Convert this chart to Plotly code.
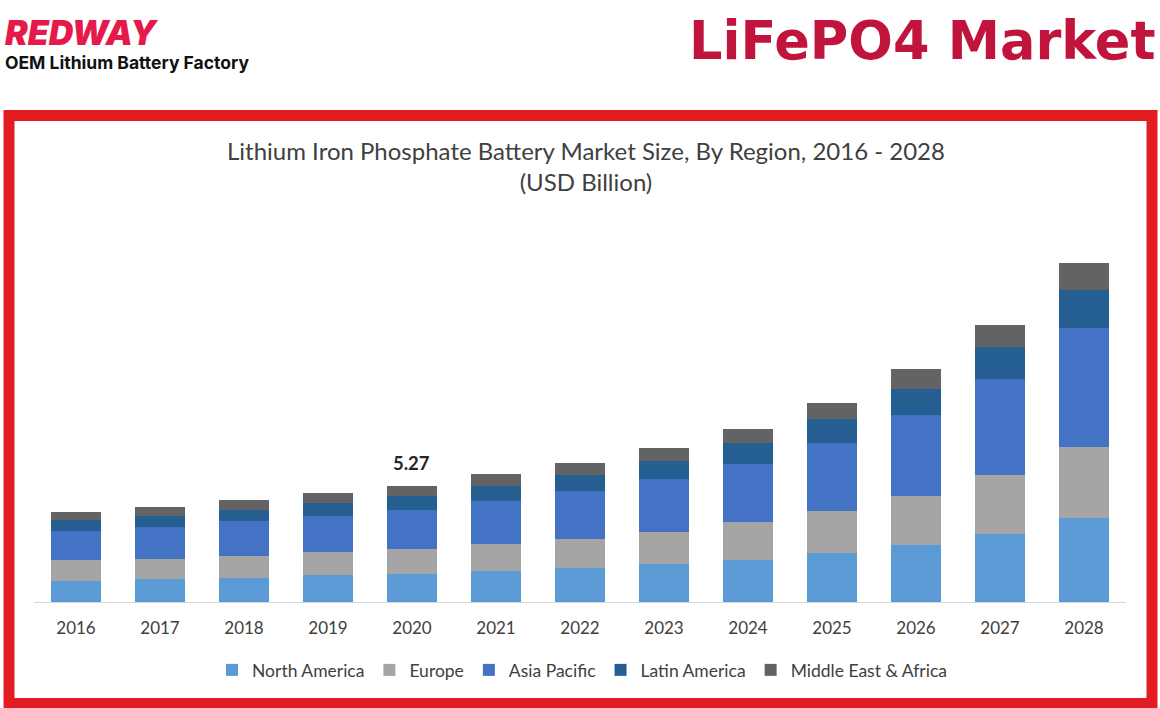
import plotly.graph_objects as go

W, H = 1160, 708

years = ["2016", "2017", "2018", "2019", "2020", "2021", "2022",
         "2023", "2024", "2025", "2026", "2027", "2028"]
north_america = [0.95, 1.03, 1.09, 1.21, 1.27, 1.41, 1.54, 1.74, 1.92, 2.21, 2.61, 3.11, 3.80]
europe = [0.95, 0.94, 1.00, 1.07, 1.14, 1.23, 1.33, 1.44, 1.71, 1.91, 2.19, 2.66, 3.24]
asia_pacific = [1.33, 1.45, 1.59, 1.65, 1.79, 1.97, 2.17, 2.42, 2.66, 3.10, 3.69, 4.36, 5.39]
latin_america = [0.49, 0.50, 0.51, 0.57, 0.62, 0.68, 0.75, 0.82, 0.95, 1.08, 1.21, 1.45, 1.77]
middle_east_africa = [0.35, 0.41, 0.44, 0.44, 0.45, 0.51, 0.52, 0.58, 0.64, 0.76, 0.90, 1.03, 1.21]

series = [
    ("North America", north_america, "#5b9bd5"),
    ("Europe", europe, "#a5a5a5"),
    ("Asia Pacific", asia_pacific, "#4472c4"),
    ("Latin America", latin_america, "#255e91"),
    ("Middle East & Africa", middle_east_africa, "#636363"),
]

label_year = "2020"
label_text = "5.27"

fig = go.Figure()
for name, vals, col in series:
    fig.add_trace(go.Bar(x=years, y=vals, name=name, marker=dict(color=col, line=dict(width=0))))

idx = years.index(label_year)
total = sum(s[1][idx] for s in series)


def px(x):
    return x / W


def py(y):
    return 1 - y / H


base_y = 602
top_y = 240
y_max = 16.45

fig.add_annotation(x=idx, y=total, xref="x", yref="y", text="<b>" + label_text + "</b>",
                   showarrow=False, yanchor="bottom", yshift=10, xshift=-1,
                   font=dict(family="Lato", size=18.5, color="#262626"))

fig.add_annotation(x=px(586), y=py(166), xref="paper", yref="paper",
                   text="Lithium Iron Phosphate Battery Market Size, By Region, 2016 - 2028<br>(USD Billion)",
                   showarrow=False, xanchor="center", yanchor="middle",
                   font=dict(family="Lato", size=24, color="#404040"))

fig.add_annotation(x=px(3), y=py(32), xref="paper", yref="paper", text="REDWAY",
                   showarrow=False, xanchor="left", yanchor="middle",
                   font=dict(family="Inter", size=34, color="#e6194b", weight=900, style="italic"))
fig.add_annotation(x=px(3), y=py(63), xref="paper", yref="paper", text="OEM Lithium Battery Factory",
                   showarrow=False, xanchor="left", yanchor="middle",
                   font=dict(family="Inter", size=17.5, color="#111111", weight=700))
fig.add_annotation(x=px(1157), y=py(41), xref="paper", yref="paper", text="LiFePO4 Market",
                   showarrow=False, xanchor="right", yanchor="middle",
                   font=dict(family="DejaVu Sans", size=52.5, color="#c0143c", weight=700))

fig.add_shape(type="rect", xref="paper", yref="paper",
              x0=px(9), x1=px(1152), y0=py(703.5), y1=py(115.5),
              line=dict(color="#e31b23", width=11), fillcolor="rgba(0,0,0,0)", layer="above")

fig.update_layout(
    template="none",
    width=W, height=H,
    margin=dict(l=0, r=0, t=0, b=0, pad=0, autoexpand=False),
    paper_bgcolor="white", plot_bgcolor="white",
    barmode="stack", bargap=0.41,
    showlegend=True,
    legend=dict(orientation="h", x=px(582), xanchor="center", y=py(670), yanchor="middle",
                font=dict(family="Lato", size=17.5, color="#404040"), traceorder="normal",
                itemwidth=30, bgcolor="rgba(0,0,0,0)"),
    xaxis=dict(type="category", domain=[px(34), px(1126)], range=[-0.5, len(years) - 0.5],
               showline=True, linecolor="#d9d9d9",
               linewidth=1, ticks="", showgrid=False, zeroline=False, automargin=False,
               ticklabelstandoff=11,
               tickfont=dict(family="Lato", size=17, color="#404040"), fixedrange=True),
    yaxis=dict(domain=[py(base_y), py(top_y)], range=[0, y_max], visible=False, automargin=False,
               showgrid=False, zeroline=False, fixedrange=True),
    font=dict(family="Lato"),
)

fig.write_html("out.html", config={"displayModeBar": False},
               post_script="document.body.style.margin='0';document.body.style.overflow='hidden';")
